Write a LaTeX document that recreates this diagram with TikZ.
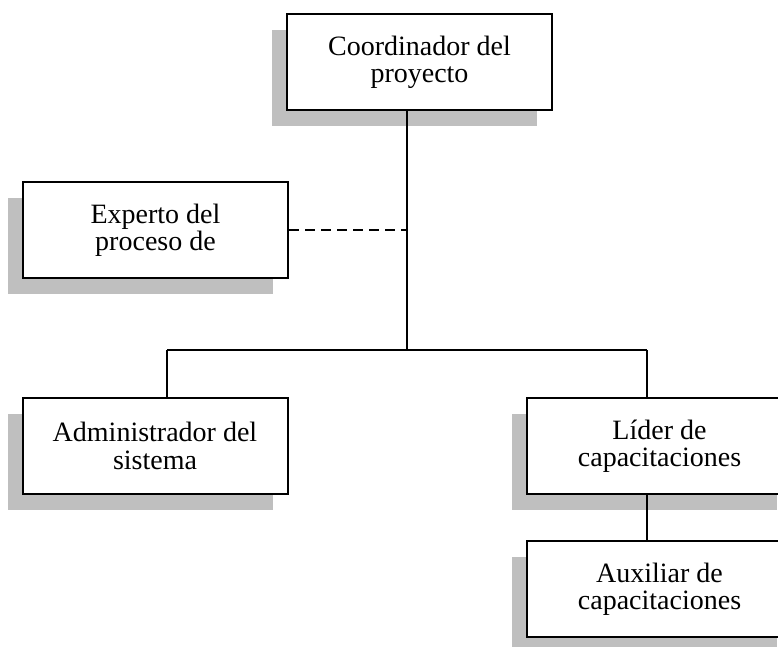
\documentclass[tikz,border=0pt]{standalone}
\usepackage{fontspec}
\setmainfont{Liberation Serif}
\usetikzlibrary{positioning,shadows}

\begin{document}
\begin{tikzpicture}[
  x=0.75pt, y=-0.75pt,
  box/.style={draw, line width=1.5pt, fill=white, minimum width=198.75pt,
              minimum height=72pt, inner sep=3pt, align=center,
              font=\fontsize{21}{20.5}\selectfont,
              drop shadow={shadow xshift=-11.25pt, shadow yshift=-12pt,
                           fill=gray!50, opacity=1}},
  line/.style={line width=0.9pt},
]
\useasboundingbox (0,0) rectangle (778,646);
\clip (0,0) rectangle (778,646);

\node[box] (coord) at (419.5,62)  {Coordinador del\\ proyecto};
\node[box] (exp)   at (155.5,230) {Experto del\\ proceso de};
\node[box] (adm)   at (155,446)   {Administrador del\\ sistema};
\node[box] (lid)   at (659.5,446) {Líder de\\ capacitaciones};
\node[box] (aux)   at (659.5,589) {Auxiliar de\\ capacitaciones};

% branch points
\coordinate (mid) at (407,350);
\coordinate (lft) at (167,350);
\coordinate (rgt) at (647,350);

\draw[line] (coord.south -| mid) -- (mid);
\draw[line] (lft) -- (rgt);
\draw[line] (lft) -- (lft |- adm.north);
\draw[line] (rgt) -- (rgt |- lid.north);
\draw[line] (lid.south -| rgt) -- (aux.north -| rgt);
\draw[line, dash pattern=on 7.5pt off 4.5pt] (exp.east) -- (exp.east -| mid);
\end{tikzpicture}
\end{document}
